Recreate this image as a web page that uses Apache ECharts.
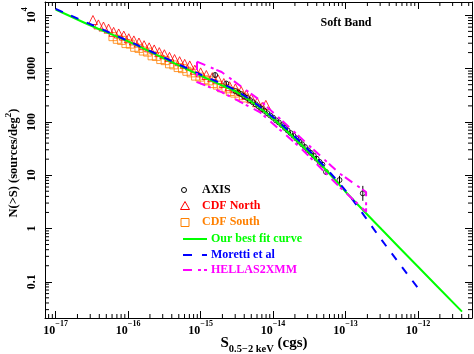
<!DOCTYPE html>
<html>
<head>
<meta charset="utf-8">
<script src="https://cdn.jsdelivr.net/npm/echarts@6/dist/echarts.min.js"></script>
<style>
html, body { margin: 0; padding: 0; background: #fff; }
#main { width: 474px; height: 354px; }
</style>
</head>
<body>
<div id="main"></div>
<script>
// axis extents (log scale)
const xMin = 7.13e-18, xMax = 5.55e-12
const yMin = 0.0209, yMax = 17800

const xTickExps = [-17, -16, -15, -14, -13, -12]
const yTickExps = [-1, 0, 1, 2, 3, 4]
const yTickText = ['0.1', '1', '10', '100', '1000', '10^4']

// AXIS survey points + error (dex)
const axisS = [1.585e-15, 2.26e-15, 3.02e-15, 3.31e-15, 3.63e-15, 3.98e-15, 4.37e-15, 4.79e-15, 5.25e-15, 5.75e-15,
  6.31e-15, 6.92e-15, 7.59e-15, 8.32e-15, 9.12e-15, 1.0e-14, 1.096e-14, 1.20e-14, 1.32e-14, 1.45e-14,
  1.585e-14, 1.74e-14, 1.91e-14, 2.09e-14, 2.29e-14, 2.51e-14, 2.75e-14, 3.02e-14, 3.31e-14, 3.63e-14,
  3.98e-14, 4.37e-14, 4.79e-14, 5.37e-14, 8.24e-14, 1.73e-13]
const axisN = [759, 525, 380, 355, 331, 302, 282, 257, 234, 214,
  195, 178, 162, 145, 132, 120, 107, 97.7, 87.1, 77.6,
  69.2, 61.7, 55.0, 49.0, 42.7, 38.0, 33.9, 29.5, 26.3, 23.4,
  20.4, 17.8, 15.8, 11.5, 8.11, 4.57]
const axisErr = [0.05, 0.04, 0.02, 0.02, 0.02, 0.02, 0.02, 0.02, 0.02, 0.02,
  0.02, 0.02, 0.02, 0.025, 0.025, 0.025, 0.025, 0.025, 0.03, 0.03,
  0.03, 0.03, 0.03, 0.03, 0.035, 0.035, 0.035, 0.04, 0.04, 0.04,
  0.045, 0.045, 0.05, 0.05, 0.08, 0.14]

// CDF North
const cdfnS = [3.27e-17, 3.89e-17, 4.57e-17, 5.37e-17, 6.31e-17, 7.41e-17, 8.71e-17, 1.02e-16, 1.20e-16, 1.41e-16,
  1.66e-16, 1.95e-16, 2.29e-16, 2.69e-16, 3.16e-16, 3.72e-16, 4.37e-16, 5.13e-16, 6.03e-16, 7.08e-16,
  8.32e-16, 1.0e-15, 1.20e-15, 1.45e-15, 1.74e-15, 2.09e-15, 2.51e-15, 3.02e-15, 3.63e-15, 4.27e-15,
  5.01e-15, 6.03e-15, 7.08e-15, 7.94e-15]
const cdfnN = [8170, 6761, 6166, 5623, 4898, 4571, 4169, 3715, 3388, 3090,
  2754, 2512, 2291, 2042, 1862, 1660, 1514, 1380, 1230, 1148,
  955, 851, 759, 692, 631, 537, 468, 427, 380, 324,
  275, 234, 191, 209]

// CDF South
const cdfsS = [6.17e-17, 7.08e-17, 8.13e-17, 9.33e-17, 1.07e-16, 1.23e-16, 1.41e-16, 1.62e-16, 1.86e-16, 2.14e-16,
  2.45e-16, 2.82e-16, 3.24e-16, 3.72e-16, 4.27e-16, 4.90e-16, 5.62e-16, 6.46e-16, 7.41e-16, 8.51e-16,
  9.77e-16, 1.12e-15, 1.29e-15, 1.48e-15, 1.70e-15, 1.95e-15, 2.24e-15, 2.57e-15, 2.95e-15, 3.39e-15,
  3.89e-15]
const cdfsN = [3981, 3548, 3388, 2951, 2884, 2512, 2399, 2138, 2042, 1738,
  1698, 1479, 1413, 1230, 1175, 1047, 1000, 891, 832, 724,
  692, 617, 589, 525, 490, 437, 417, 372, 347, 309,
  282]

// our best fit curve
const fitS = [1e-17, 3.16e-17, 1e-16, 3.16e-16, 1e-15, 2.0e-15, 3.16e-15, 5.62e-15, 1e-14, 1.78e-14, 3.16e-14, 5.62e-14, 1e-13, 3.16e-13, 1e-12, 4.04e-12]
const fitN = [12880, 6310, 3236, 1549, 741, 479, 363, 214, 115, 56.2, 26.3, 11.75, 4.90, 0.955, 0.191, 0.0275]

// Moretti et al
const morS = [1e-17, 1e-16, 1e-15, 3.16e-15, 1e-14, 3.16e-14, 1e-13, 3.16e-13, 1e-12]
const morN = [13180, 3311, 776, 380, 123, 28.8, 5.13, 0.603, 0.0759]

// HELLAS2XMM band (upper edge then lower edge, closed)
const hellasS = [8.91e-16, 1.95e-15, 6.52e-15, 2.32e-14, 8.24e-14, 1.92e-13, 1.92e-13, 8.24e-14, 2.32e-14, 6.52e-15, 1.95e-15, 8.91e-16, 8.91e-16]
const hellasN = [1349, 863, 257, 52.5, 10.84, 4.84, 2.07, 6.03, 33.9, 153, 363, 562, 1349]

const FONT = "'Liberation Serif', 'DejaVu Serif', serif"
const zip = (a, b) => a.map((v, i) => [v, b[i]])

// minor tick positions (2..9 x 10^n) inside the axis range
function minorValues(lo, hi) {
  const out = []
  for (let n = Math.floor(Math.log10(lo)); n <= Math.ceil(Math.log10(hi)); n++) {
    for (let k = 2; k <= 9; k++) {
      const v = k * Math.pow(10, n)
      if (v > lo && v < hi) out.push(v)
    }
  }
  return out
}
const xMinor = minorValues(xMin, xMax)
const yMinor = minorValues(yMin, yMax)

function expOf(v) {
  const e = Math.log10(v)
  return Math.abs(e - Math.round(e)) < 1e-6 ? Math.round(e) : null
}

// superscript: base glyph sits at bottom of line box, exponent at top
const supRich = {
  b: { fontSize: 12, fontWeight: 'bold', fontFamily: FONT, color: '#000', lineHeight: 17, verticalAlign: 'bottom' },
  e: { fontSize: 8, fontWeight: 'bold', fontFamily: FONT, color: '#000', lineHeight: 8, verticalAlign: 'top' }
}

function xLabel(v) {
  const e = expOf(v)
  if (e === null || xTickExps.indexOf(e) < 0) return ''
  return '{b|10}{e|\u2212' + Math.abs(e) + '}'
}
function yLabel(v) {
  const e = expOf(v)
  const i = e === null ? -1 : yTickExps.indexOf(e)
  if (i < 0) return ''
  const t = yTickText[i]
  if (t.indexOf('^') > 0) {
    const p = t.split('^')
    return '{b|' + p[0] + '}{e|' + p[1] + '}'
  }
  return '{b|' + t + '}'
}

function frameAxis(pos, isX) {
  return {
    type: 'log',
    logBase: 10,
    position: pos,
    min: isX ? xMin : yMin,
    max: isX ? xMax : yMax,
    axisLine: { show: true, onZero: false, lineStyle: { color: '#000', width: 1 } },
    axisTick: { show: true, inside: true, length: 7, lineStyle: { color: '#000', width: 1 } },
    axisLabel: { show: false },
    splitLine: { show: false },
    minorTick: { show: false }
  }
}

const xBottom = frameAxis('bottom', true)
xBottom.axisLabel = { show: true, formatter: xLabel, margin: 2, rich: supRich, showMinLabel: false, showMaxLabel: false }
const yLeft = frameAxis('left', false)
yLeft.axisLabel = { show: true, formatter: yLabel, rotate: 90, margin: 7, rich: supRich, showMinLabel: false, showMaxLabel: false }

const chart = echarts.init(document.getElementById('main'), null, { renderer: 'canvas' })

function tickLine(x1, y1, x2, y2) {
  return { type: 'line', shape: { x1, y1, x2, y2 }, style: { stroke: '#000', lineWidth: 1 } }
}

const legendFont = { fontFamily: FONT, fontWeight: 'bold', fontSize: 12 }
function legendText(x, y, text, color) {
  return { type: 'text', x, y, style: Object.assign({ text, fill: color, verticalAlign: 'middle', align: 'left' }, legendFont), z: 100 }
}

const option = {
  animation: false,
  backgroundColor: '#fff',
  grid: { left: 45, right: 2, top: 2, bottom: 36, containLabel: false },
  xAxis: [xBottom, frameAxis('top', true)],
  yAxis: [yLeft, frameAxis('right', false)],
  graphic: [
    { type: 'text', x: 346, y: 23, style: Object.assign({ text: 'Soft Band', fill: '#000', align: 'center', verticalAlign: 'middle' }, legendFont) },
    // y title
    {
      type: 'text', x: 12, y: 163, rotation: Math.PI / 2,
      style: {
        text: '{n|N(>S) (sources/deg}{s|2}{n|)}', align: 'center', verticalAlign: 'middle',
        rich: {
          n: { fontFamily: FONT, fontWeight: 'bold', fontSize: 12.5, lineHeight: 16, verticalAlign: 'bottom', fill: '#000' },
          s: { fontFamily: FONT, fontWeight: 'bold', fontSize: 9, lineHeight: 9, verticalAlign: 'top', fill: '#000' }
        }
      }
    },
    // x title
    {
      type: 'text', x: 264, y: 345,
      style: {
        text: '{s|S}{u|0.5\u22122 keV}{n| (cgs)}', align: 'center', verticalAlign: 'middle',
        rich: {
          s: { fontFamily: FONT, fontWeight: 'bold', fontSize: 15, lineHeight: 19, verticalAlign: 'top', fill: '#000' },
          u: { fontFamily: FONT, fontWeight: 'bold', fontSize: 10.5, lineHeight: 11, verticalAlign: 'bottom', fill: '#000' },
          n: { fontFamily: FONT, fontWeight: 'bold', fontSize: 15, lineHeight: 15, verticalAlign: 'top', fill: '#000' }
        }
      }
    },
    // legend
    { type: 'circle', shape: { cx: 184, cy: 190, r: 2.5 }, style: { fill: 'none', stroke: '#000', lineWidth: 1 } },
    legendText(202, 190, 'AXIS', '#000'),
    { type: 'polygon', shape: { points: [[185, 201.5], [189.5, 209.5], [180.5, 209.5]] }, style: { fill: 'none', stroke: '#ff0000', lineWidth: 1 } },
    legendText(202, 206, 'CDF North', '#ff0000'),
    { type: 'rect', shape: { x: 181, y: 218.5, width: 8, height: 8 }, style: { fill: 'none', stroke: '#ff8000', lineWidth: 1 } },
    legendText(202, 222, 'CDF South', '#ff8000'),
    { type: 'line', shape: { x1: 183, y1: 239, x2: 207, y2: 239 }, style: { stroke: '#00ff00', lineWidth: 2 } },
    legendText(211, 239, 'Our best fit curve', '#00ff00'),
    { type: 'line', shape: { x1: 183, y1: 255, x2: 207, y2: 255 }, style: { stroke: '#0000ff', lineWidth: 2, lineDash: [9, 10] } },
    legendText(211, 255, 'Moretti et al', '#0000ff'),
    { type: 'line', shape: { x1: 183, y1: 270, x2: 207, y2: 270 }, style: { stroke: '#ff00ff', lineWidth: 2, lineDash: [9, 6, 3, 3] } },
    legendText(211, 270, 'HELLAS2XMM', '#ff00ff')
  ],
  series: [
    {
      // log minor ticks on all four sides
      name: 'minor ticks',
      type: 'custom',
      silent: true,
      z: 10,
      data: [[1e-15, 1]],
      renderItem(params, api) {
        const cs = params.coordSys
        const bottom = cs.y + cs.height, right = cs.x + cs.width
        const children = []
        xMinor.forEach(v => {
          const px = api.coord([v, 1])[0]
          children.push(tickLine(px, bottom, px, bottom - 4), tickLine(px, cs.y, px, cs.y + 4))
        })
        yMinor.forEach(v => {
          const py = api.coord([1e-15, v])[1]
          children.push(tickLine(cs.x, py, cs.x + 4, py), tickLine(right, py, right - 4, py))
        })
        return { type: 'group', children }
      }
    },
    {
      name: 'CDF South',
      type: 'scatter',
      symbol: 'rect',
      symbolSize: 8,
      itemStyle: { color: 'rgba(0,0,0,0)', borderColor: '#ff8000', borderWidth: 1 },
      data: zip(cdfsS, cdfsN),
      z: 2
    },
    {
      name: 'CDF North',
      type: 'scatter',
      symbol: 'triangle',
      symbolSize: 9,
      itemStyle: { color: 'rgba(0,0,0,0)', borderColor: '#ff0000', borderWidth: 1 },
      data: zip(cdfnS, cdfnN),
      z: 2
    },
    {
      name: 'AXIS err',
      type: 'custom',
      z: 3,
      data: axisS.map((s, i) => [s, axisN[i] / Math.pow(10, axisErr[i]), axisN[i] * Math.pow(10, axisErr[i])]),
      encode: { x: 0, y: [1, 2] },
      renderItem(params, api) {
        const p1 = api.coord([api.value(0), api.value(1)])
        const p2 = api.coord([api.value(0), api.value(2)])
        return { type: 'line', shape: { x1: p1[0], y1: p1[1], x2: p2[0], y2: p2[1] }, style: { stroke: '#000', lineWidth: 1 } }
      }
    },
    {
      name: 'AXIS',
      type: 'scatter',
      symbol: 'circle',
      symbolSize: 5,
      itemStyle: { color: 'rgba(0,0,0,0)', borderColor: '#000', borderWidth: 1 },
      data: zip(axisS, axisN),
      z: 3
    },
    {
      name: 'Our best fit curve',
      type: 'line',
      showSymbol: false,
      smooth: 0.3,
      lineStyle: { color: '#00ff00', width: 2 },
      data: zip(fitS, fitN),
      z: 4
    },
    {
      name: 'Moretti et al',
      type: 'line',
      showSymbol: false,
      smooth: 0.3,
      lineStyle: { color: '#0000ff', width: 2, type: [8, 9] },
      data: zip(morS, morN),
      z: 5
    },
    {
      name: 'HELLAS2XMM',
      type: 'line',
      showSymbol: false,
      lineStyle: { color: '#ff00ff', width: 2, type: [9, 6, 3, 3] },
      data: zip(hellasS, hellasN),
      z: 5
    }
  ]
}

chart.setOption(option)
</script>
</body>
</html>
